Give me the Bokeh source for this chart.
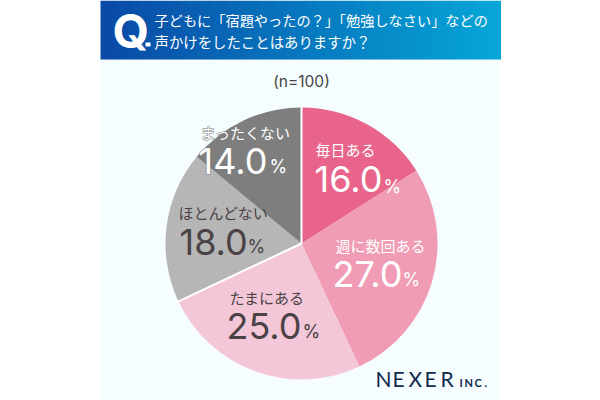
import numpy as np
from bokeh.plotting import figure
from bokeh.models import Range1d
from bokeh.core.properties import value
from bokeh.embed import file_html
from bokeh.resources import INLINE

categories = ["毎日ある", "週に数回ある", "たまにある", "ほとんどない", "まったくない"]
values = [16.0, 27.0, 25.0, 18.0, 14.0]
colors = ["#E8648A", "#F09CB5", "#F4C7D8", "#B6B6B6", "#7E7E7E"]
question = ["子どもに「宿題やったの？」「勉強しなさい」などの", "声かけをしたことはありますか？"]
note = "(n=100)"

W, H = 600, 400
p = figure(width=W, height=H, output_backend="svg", toolbar_location=None,
           x_range=Range1d(0, W), y_range=Range1d(0, H), min_border=0)
p.axis.visible = False
p.grid.visible = False
p.outline_line_color = None
p.background_fill_color = "white"
p.border_fill_color = "white"
p.styles = {"position": "absolute", "left": "0px", "top": "0px"}

Y = lambda y: H - y
JP = "Noto Sans CJK JP"
NUM = "Inter"

def t(x, y, s, size, color, font=JP, align="left", style="normal", outline=None):
    if outline:
        p.text([x], [Y(y)], text=[s], text_font=value(font), text_font_size=f"{size}px", text_color=outline,
               text_align=align, text_baseline="middle", text_font_style=style,
               text_outline_color=outline)
    p.text([x], [Y(y)], text=[s], text_font=value(font), text_font_size=f"{size}px", text_color=color,
           text_align=align, text_baseline="middle", text_font_style=style)

# panel + gradient header
p.quad(left=[100], right=[500], top=[Y(59)], bottom=[Y(400)], fill_color="#F5FDFF", line_color=None)
n = 100
c0, c1 = np.array([10, 74, 166]), np.array([6, 166, 216])
edges = np.linspace(100, 500, n + 1)
cols = ["#%02x%02x%02x" % tuple(int(v) for v in c0 + (c1 - c0) * i / (n - 1)) for i in range(n)]
p.quad(left=edges[:-1], right=edges[1:] + 0.5, top=Y(0), bottom=Y(59), fill_color=cols, line_color=None)

t(112, 30, "Q", 47, "white", NUM, style="bold")
p.quad(left=[145], right=[150], top=[Y(42)], bottom=[Y(46)], fill_color="white", line_color=None)
t(154, 19, question[0], 14.2, "white")
t(154, 41, question[1], 14.4, "white")
t(301, 81, note, 15.5, "#444444", NUM, align="center")

# pie
cx, cy, r = 301, Y(243), 136
cum = np.concatenate([[0], np.cumsum(values)]) / np.sum(values)
starts = np.pi / 2 - 2 * np.pi * cum[:-1]
ends = np.pi / 2 - 2 * np.pi * cum[1:]
p.wedge(x=cx, y=cy, radius=r, start_angle=starts, end_angle=ends, direction="clock",
        fill_color=colors, line_color=None)
# white separators: top of the pie and the 18/25 boundary
p.ray(x=cx, y=cy, length=r + 1, angle=[starts[0], starts[3]], line_color="white", line_width=2)

DK, WH = "#4A4245", "white"
labels = [
    (315, 149, 314, 178.5, 383, 186, WH, None),
    (335, 245, 332, 273, 402, 279, WH, None),
    (229, 297, 226, 325, 302, 331, DK, None),
    (178, 212, 179, 241, 247, 246, DK, None),
    (200, 132, 198, 160, 269, 166, WH, "#7E7E7E"),
]
for (lx, ly, vx, vy, px, py, col, ol), c, v in zip(labels, categories, values):
    t(lx, ly, c, 15, col, outline=ol)
    t(vx, vy, f"{v:.1f}", 36, col, NUM, outline=ol)
    t(px, py, "%", 18, col, NUM, outline=ol)

# logo
NAVY = "#10294F"
for x, ch in zip([375, 392, 408, 424, 440], "NEXER"):
    t(x, 378, ch, 21, NAVY, "Lato")
for x, ch in zip([459, 464, 474, 484], "INC."):
    t(x, 382, ch, 11, NAVY, "Lato", style="bold")

open("out.html", "w").write(file_html(p, INLINE))
